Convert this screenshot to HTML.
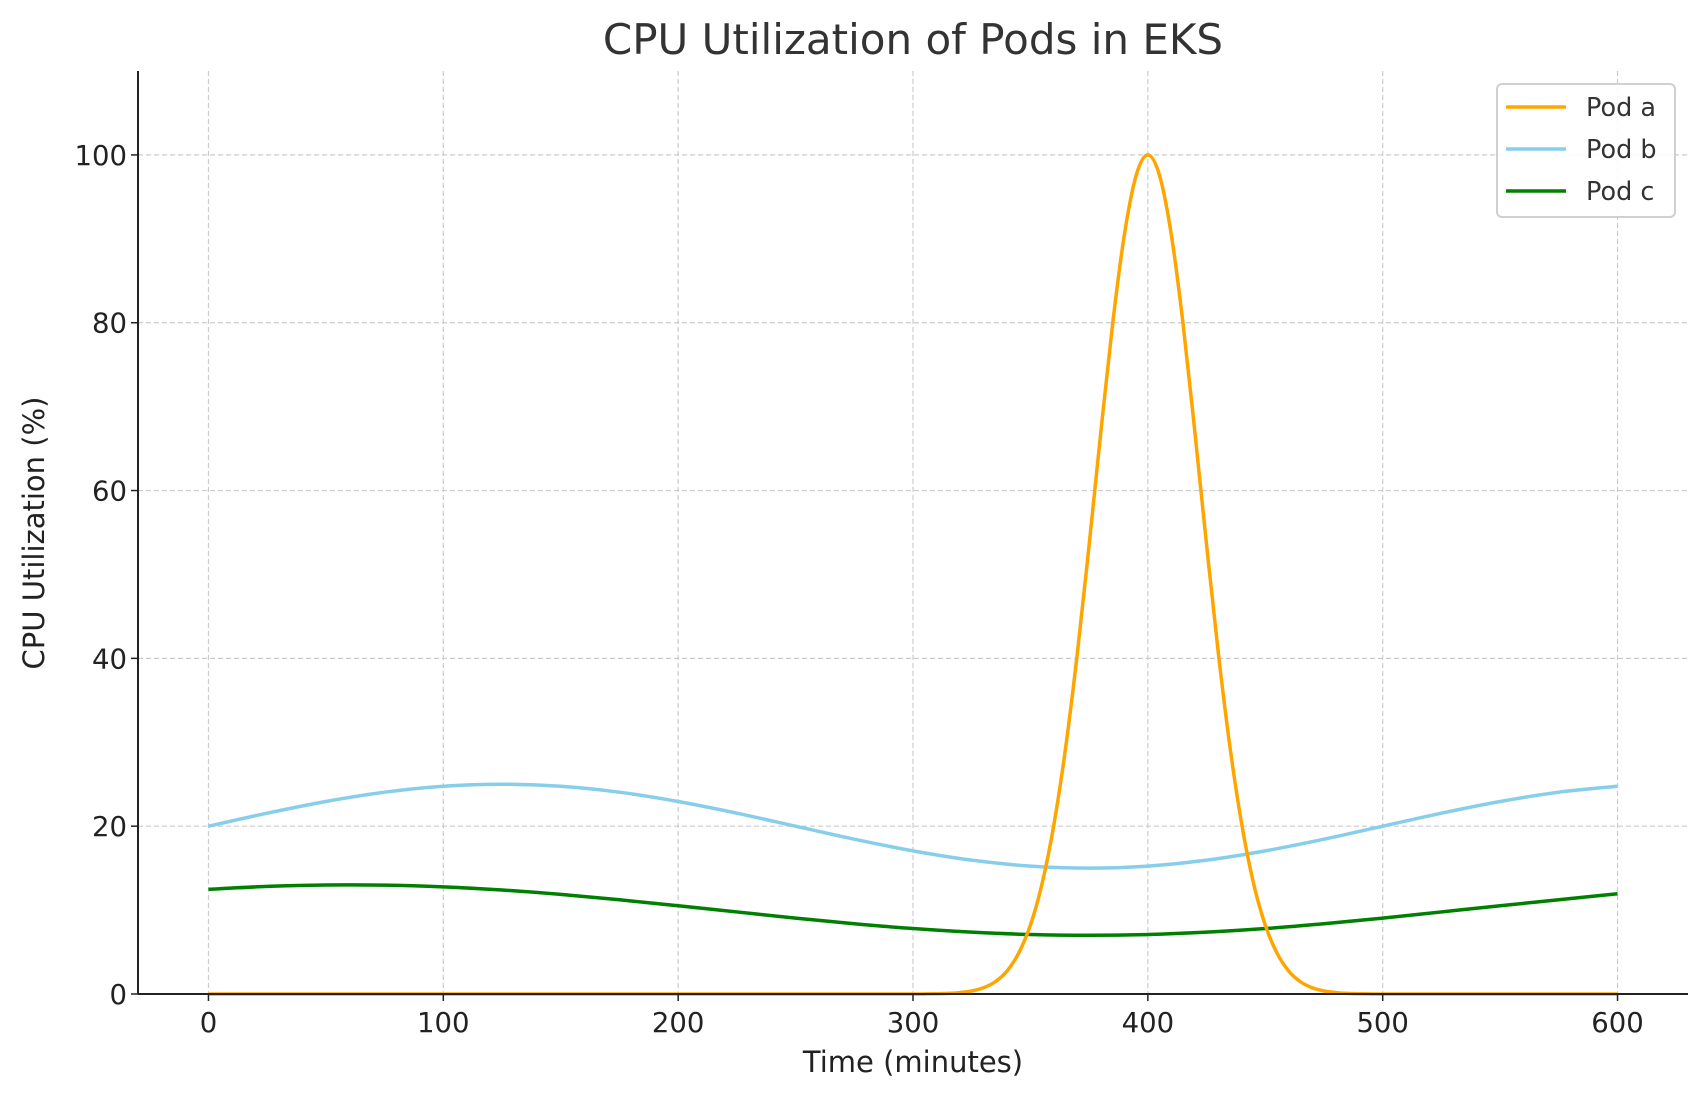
<!DOCTYPE html>
<html><head><meta charset="utf-8"><style>
html,body{margin:0;padding:0;background:#fff;}
svg{display:block;font-family:"DejaVu Sans","Liberation Sans",sans-serif;}
</style></head><body>
<svg id="chart" width="1707" height="1101" viewBox="0 0 1707 1101" xmlns="http://www.w3.org/2000/svg">
<rect width="1707" height="1101" fill="#fff"/>
<text x="913" y="54" text-anchor="middle" font-size="42" fill="#333">CPU Utilization of Pods in EKS</text>
<text x="913" y="1072" text-anchor="middle" font-size="29" fill="#222">Time (minutes)</text>
<text transform="translate(44,533) rotate(-90)" text-anchor="middle" font-size="29" fill="#222">CPU Utilization (%)</text>
<g id="grid"></g><g id="series"></g><g id="axes"></g>
<g>
<rect x="1497" y="84" width="178" height="133" rx="5" fill="#fff" fill-opacity="0.85" stroke="#d0d0d0" stroke-width="2"/>
<line x1="1506" y1="107" x2="1566" y2="107" stroke="#FFA500" stroke-width="3.5"/>
<text x="1586" y="116" font-size="25.5" fill="#333">Pod a</text>
<line x1="1506" y1="149" x2="1566" y2="149" stroke="#87CEEB" stroke-width="3.5"/>
<text x="1586" y="158" font-size="25.5" fill="#333">Pod b</text>
<line x1="1506" y1="191" x2="1566" y2="191" stroke="#008000" stroke-width="3.5"/>
<text x="1586" y="200" font-size="25.5" fill="#333">Pod c</text>
</g>
</svg>
<script>
const timesBC=[0,25,50,75,100,125,150,175,200,225,250,275,300,325,350,375,400,425,450,475,500,525,550,575,600];
const podB=[20,21.55,22.94,24.05,24.76,25,24.76,24.05,22.94,21.55,20,18.45,17.06,15.95,15.24,15,15.24,15.95,17.06,18.45,20,21.55,22.94,24.05,24.76];
const podC=[12.48,12.82,12.99,12.97,12.76,12.39,11.87,11.23,10.52,9.78,9.04,8.37,7.80,7.37,7.09,7,7.09,7.37,7.80,8.37,9.04,9.78,10.52,11.23,11.95];
const timesA=[0,250,300,305,310,315,320,325,330,335,340,345,350,355,360,365,370,375,380,385,390,395,400,405,410,415,420,425,430,435,440,445,450,455,460,465,470,475,480,485,490,495,500,550,600];
const podA=[0,0,0,0.01,0.03,0.07,0.17,0.36,0.74,1.46,2.73,4.87,8.21,13.20,20.19,29.38,40.66,53.53,67.03,79.85,90.48,97.53,100,97.53,90.48,79.85,67.03,53.53,40.66,29.38,20.19,13.20,8.21,4.87,2.73,1.46,0.74,0.36,0.17,0.07,0.03,0.01,0,0,0];
const xTicks=[0,100,200,300,400,500,600];
const yTicks=[0,20,40,60,80,100];
const L=138,R=1688,T=71,B=994,XMIN=-30,XMAX=630,YMIN=0,YMAX=110;
const sx=v=>L+(v-XMIN)/(XMAX-XMIN)*(R-L);
const sy=v=>B-(v-YMIN)/(YMAX-YMIN)*(B-T);
const NS="http://www.w3.org/2000/svg";
function mk(tag,parent,attrs){const e=document.createElementNS(NS,tag);for(const k in attrs)e.setAttribute(k,attrs[k]);parent.appendChild(e);return e;}
const grid=document.getElementById('grid'),axes=document.getElementById('axes'),series=document.getElementById('series');
xTicks.forEach(v=>{
 const g=mk('line',grid,{x1:sx(v),x2:sx(v),y1:T,y2:B,stroke:'#cccccc','stroke-width':1.2,'stroke-dasharray':'5,3'});
 
 
 const t=mk('line',axes,{x1:sx(v),x2:sx(v),y1:B,y2:B+7,stroke:'#222','stroke-width':1.5});
 
 
 const l=mk('text',axes,{x:sx(v),y:B+38,'text-anchor':'middle','font-size':27.5,fill:'#222'});
 l.textContent=v;
 
 
});
yTicks.forEach(v=>{
 const g=mk('line',grid,{x1:L,x2:R,y1:sy(v),y2:sy(v),stroke:'#cccccc','stroke-width':1.2,'stroke-dasharray':'5,3'});
 
 
 const t=mk('line',axes,{x1:L-7,x2:L,y1:sy(v),y2:sy(v),stroke:'#222','stroke-width':1.5});
 
 
 const l=mk('text',axes,{x:L-11,y:sy(v)+10,'text-anchor':'end','font-size':27.5,fill:'#222'});
 l.textContent=v;
 
 
});
function smooth(xs,ys){
 const p=xs.map((x,i)=>[sx(x),sy(ys[i])]);
 let d='M'+p[0][0]+','+p[0][1];
 for(let i=0;i<p.length-1;i++){
  const p0=p[Math.max(0,i-1)],p1=p[i],p2=p[i+1],p3=p[Math.min(p.length-1,i+2)];
  d+=' C'+(p1[0]+(p2[0]-p0[0])/6)+','+(p1[1]+(p2[1]-p0[1])/6)+' '+(p2[0]-(p3[0]-p1[0])/6)+','+(p2[1]-(p3[1]-p1[1])/6)+' '+p2[0]+','+p2[1];
 }
 return d;
}
const pb=mk('path',series,{d:smooth(timesBC,podB),fill:'none',stroke:'#87CEEB','stroke-width':3.5});


const pc=mk('path',series,{d:smooth(timesBC,podC),fill:'none',stroke:'#008000','stroke-width':3.5});


const pa=mk('path',series,{d:smooth(timesA,podA),fill:'none',stroke:'#FFA500','stroke-width':3.5,'stroke-linejoin':'round'});


const ax1=mk('line',axes,{x1:L,x2:L,y1:T,y2:B,stroke:'#222','stroke-width':2});


const ax2=mk('line',axes,{x1:L,x2:R,y1:B,y2:B,stroke:'#222','stroke-width':2});


</script>
</body></html>
